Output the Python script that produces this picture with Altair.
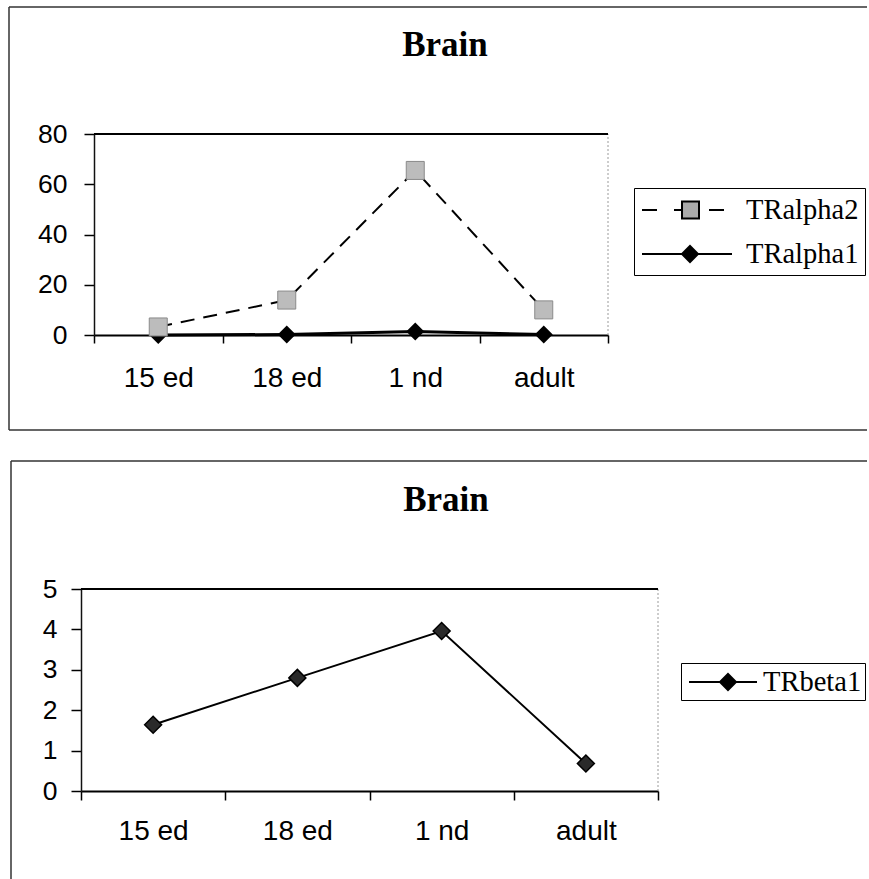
import json
import pandas as pd
import altair as alt

# ---------------- data ----------------
categories = ["15 ed", "18 ed", "1 nd", "adult"]
tralpha2 = [3.2, 13.9, 65.5, 10.0]
tralpha1 = [0.0, 0.2, 1.4, 0.2]
trbeta1 = [1.64, 2.8, 3.96, 0.68]
top_series = ["TRalpha2", "TRalpha1"]
bottom_series = ["TRbeta1"]
chart_titles = ["Brain", "Brain"]
top_yticks = [0, 20, 40, 60, 80]
bottom_yticks = [0, 1, 2, 3, 4, 5]

AXIS_FONT = "Liberation Sans"
SERIF = "Liberation Serif"


def long_rows(name, values):
    return [{"category": c, "idx": i, "value": v, "series": name}
            for i, (c, v) in enumerate(zip(categories, values))]


top_df = pd.DataFrame(long_rows(top_series[0], tralpha2) + long_rows(top_series[1], tralpha1))
bottom_df = pd.DataFrame(long_rows(bottom_series[0], trbeta1))
one_row = pd.DataFrame({"k": [0]})

n = len(categories)
x_lo, x_hi = -0.5, n - 0.5
x_tick_values = [x_lo + 0.5 * k for k in range(2 * n + 1)]
label_expr = "datum.value % 1 === 0 ? " + json.dumps(categories) + "[datum.value] : ''"


def x_channel(rng, tick_size, label_pad):
    sc = dict(domain=[x_lo, x_hi], nice=False, zero=False)
    if rng is not None:
        sc["range"] = rng
    return alt.X("idx:Q", scale=alt.Scale(**sc), axis=alt.Axis(
        values=x_tick_values, labelExpr=label_expr, title=None, grid=False,
        tickOpacity={"condition": {"test": "datum.value % 1 !== 0", "value": 1}, "value": 0},
        tickSize=tick_size, tickColor="black", tickWidth=1.5,
        domainColor="black", domainWidth=2,
        labelPadding=label_pad, labelFont=AXIS_FONT, labelFontSize=28, labelColor="black",
        labelOverlap=False, labelFlush=False))


def y_channel(ticks, offset, tick_size, label_pad):
    return alt.Y("value:Q", scale=alt.Scale(domain=[ticks[0], ticks[-1]], nice=False, zero=True),
                 axis=alt.Axis(values=ticks, title=None, grid=False, offset=offset,
                               tickSize=tick_size, tickColor="black", tickWidth=1.5,
                               domainColor="#111", domainWidth=1.5,
                               labelPadding=label_pad, labelFont=AXIS_FONT, labelFontSize=26.5,
                               labelColor="black"))


# ---------------- legend symbols (line + marker, Excel style) ----------------
U = 15.0  # half of sqrt(symbolSize=900)


def seg(x0, x1):
    return f"M{x0 / U:.3f},0H{x1 / U:.3f}"


def square(x0, x1, half):
    return f"M{x0 / U:.3f},{-half / U:.3f}H{x1 / U:.3f}V{half / U:.3f}H{x0 / U:.3f}Z"


def diamond(cx, r):
    out = ""
    for rr in [r, r - 2, r - 4, r - 6]:
        out += (f"M{(cx - rr) / U:.3f},0L{cx / U:.3f},{-rr / U:.3f}"
                f"L{(cx + rr) / U:.3f},0L{cx / U:.3f},{rr / U:.3f}Z")
    return out


path_a2 = seg(-45, -30) + seg(-13, -5) + square(-5, 12, 8.5) + seg(22, 37)
path_a1 = seg(-45, 45) + diamond(3, 8)
path_b1 = seg(-34, 34) + diamond(5, 8)


def legend(x, y, pad, sym_off, lab_off, row_pad):
    return alt.Legend(title=None, orient="none", legendX=x, legendY=y, direction="vertical",
                      padding=pad, rowPadding=row_pad, symbolSize=900, symbolStrokeWidth=2,
                      symbolOffset=sym_off, labelOffset=lab_off, symbolOpacity=1,
                      strokeColor="black", fillColor="white",
                      labelFont=SERIF, labelFontSize=28.5, labelColor="black", labelLimit=400)


def frame_rule(**enc):
    return alt.Chart(one_row).mark_rule(color="#333", strokeWidth=1.5).encode(
        **{k: alt.value(v) for k, v in enc.items()})


def title_layer(text, x, y):
    return alt.Chart(pd.DataFrame({"title": [text]})).mark_text(
        font=SERIF, fontWeight="bold", fontSize=35, color="black",
        align="center", baseline="alphabetic").encode(
        text="title:N", x=alt.value(x), y=alt.value(y))


def borders(ticks):
    top = alt.Chart(one_row).mark_rule(color="black", strokeWidth=2).encode(
        x=alt.X(datum=x_lo), x2=alt.X2(datum=x_hi), y=alt.Y(datum=ticks[-1]))
    right = alt.Chart(one_row).mark_rule(color="#9a9a9a", strokeWidth=1, strokeDash=[2, 2]).encode(
        x=alt.X(datum=x_hi), y=alt.Y(datum=ticks[0]), y2=alt.Y2(datum=ticks[-1]))
    return [right, top]


# ---------------- top panel ----------------
xt = x_channel([13, 527], 8, 21)
yt = y_channel(top_yticks, -13, 10, 17)

a1 = alt.Chart(top_df).transform_filter(alt.datum.series == top_series[1])
a2 = alt.Chart(top_df).transform_filter(alt.datum.series == top_series[0])

top_layers = [
    a1.mark_line(color="black", strokeWidth=3).encode(x=xt, y=yt),
    frame_rule(x=-72, x2=786, y=-127),
    frame_rule(x=-72, y=-127, y2=296),
    frame_rule(x=-72, x2=786, y=296),
    title_layer(chart_titles[0], 364, -78),
    *borders(top_yticks),
    a1.mark_point(shape="diamond", filled=True, size=324, fill="black", opacity=1).encode(x=xt, y=yt),
    a2.mark_line(color="black", strokeWidth=2, strokeDash=[14, 9]).encode(x=xt, y=yt),
    a2.mark_point(shape="square", filled=True, size=324, fill="#bcbcbc", stroke="#8a8a8a",
                  strokeWidth=1, opacity=1).encode(x=xt, y=yt),
    alt.Chart(top_df).mark_point(filled=True, size=0, fill="#ababab", stroke="black", strokeWidth=2).encode(
        x=xt, y=yt,
        shape=alt.Shape("series:N", scale=alt.Scale(domain=top_series, range=[path_a2, path_a1]),
                        legend=legend(553, 54, 6, 31, 43, 13))),
]
top = alt.layer(*top_layers).properties(width=527, height=201)

# ---------------- bottom panel ----------------
xb = x_channel(None, 9, 17)
yb = y_channel(bottom_yticks, 0, 10, 14)
b1 = alt.Chart(bottom_df)

bottom_layers = [
    b1.mark_line(color="black", strokeWidth=2).encode(x=xb, y=yb),
    frame_rule(x=-70, x2=786, y=-128),
    frame_rule(x=-70, y=-128, y2=290),
    title_layer(chart_titles[1], 365, -78),
    *borders(bottom_yticks),
    b1.mark_point(shape="diamond", filled=True, size=289, fill="#2a2a2a", stroke="black",
                  strokeWidth=1.5, opacity=1).encode(x=xb, y=yb),
    b1.mark_point(filled=True, size=0, fill="black", stroke="black", strokeWidth=2).encode(
        x=xb, y=yb,
        shape=alt.Shape("series:N", scale=alt.Scale(domain=bottom_series, range=[path_b1]),
                        legend=legend(600, 74, 3, 23, 24, 12))),
]
bottom = alt.layer(*bottom_layers).properties(width=577, height=202)

chart = alt.vconcat(top, bottom, spacing=27).resolve_scale(
    x="independent", y="independent", shape="independent"
).properties(
    padding={"left": 7, "top": 5, "right": 0, "bottom": 0}, background="white"
).configure_view(stroke="transparent")

chart.save("out.html", embed_options={"renderer": "svg", "actions": False})
